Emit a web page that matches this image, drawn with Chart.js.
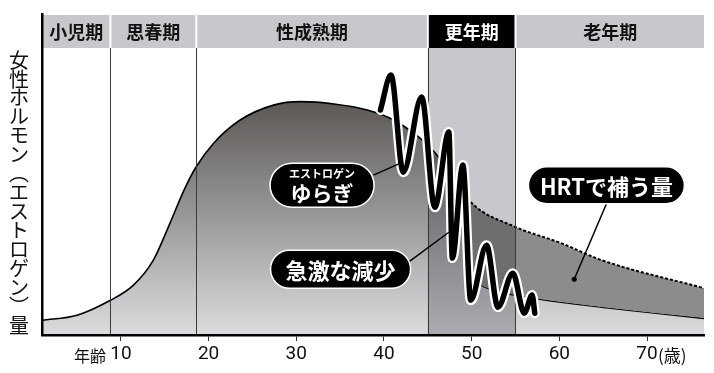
<!DOCTYPE html>
<html lang="ja">
<head>
<meta charset="utf-8">
<script src="https://cdn.jsdelivr.net/npm/chart.js@4.4.1/dist/chart.umd.min.js"></script>
<style>
html, body { margin: 0; padding: 0; background: #fff; }
#wrap { width: 714px; height: 373px; position: relative; }
</style>
</head>
<body>
<div id="wrap"><canvas id="hormoneChart"></canvas></div>
<script>
// age (years) and relative estrogen level (0-100)
const mainAges   = [1, 5, 8.8, 11.4, 13.7, 15.6, 17.2, 18.5, 20.6, 23.6, 27.4, 30.5, 34.3, 38.1, 41.1, 45, 46.8, 48.0, 48.8, 50.2, 52.5, 55.3, 60.2, 64.8, 76.5];
const mainLevels = [5.1, 6.9, 12.1, 17.3, 26.1, 39.0, 50.5, 58.2, 66.9, 74.9, 80.1, 81.3, 80.5, 78.4, 74.9, 66.2, 59.9, 55.0, 39.0, 21.5, 15.6, 13.8, 11.4, 9.7, 5.8];

const hrtAges   = [48.0, 49.9, 54.8, 60.2, 64.8, 76.5];
const hrtLevels = [55.0, 46.3, 37.9, 32.0, 26.1, 16.3];

const wiggleAges   = [39.6, 40.8, 42.2, 44.3, 45.8, 47.4, 47.8, 49.0, 49.9, 51.7, 53.0, 54.7, 56.0, 56.9, 57.2];
const wiggleLevels = [78.4, 90.6, 56.7, 82.9, 44.5, 70.7, 26.8, 59.2, 12.1, 31.3, 9.7, 21.5, 7.6, 13.9, 7.6];

const xTicks = [10, 20, 30, 40, 50, 60, 70];
const periodNames  = ['小児期', '思春期', '性成熟期', '更年期', '老年期'];
const periodBounds = [1, 8.8, 18.6, 45, 55, 76.5];
const yTitle = '女性ホルモン(エストロゲン)量';

const JP = '"Noto Sans CJK JP", sans-serif';

function pts(xs, ys) {
    return xs.map((x, i) => ({ x: x, y: ys[i] }));
}

function pill(ctx, cx, cy, w, h) {
    ctx.beginPath();
    ctx.roundRect(cx - w / 2, cy - h / 2, w, h, h / 2);
    ctx.fillStyle = '#000';
    ctx.fill();
    ctx.lineWidth = 1.5;
    ctx.strokeStyle = '#fff';
    ctx.stroke();
}

// band, header, titles and callouts
const decorations = {
    id: 'decorations',
    afterDatasetDraw(chart, args) {
        if (args.index !== 1) return;
        const ctx = chart.ctx, a = chart.chartArea, x = chart.scales.x;
        ctx.save();
        ctx.globalCompositeOperation = 'multiply';
        ctx.fillStyle = '#c8c7cc';
        ctx.fillRect(x.getPixelForValue(45), a.top, x.getPixelForValue(55) - x.getPixelForValue(45), a.bottom - a.top);
        ctx.restore();

        ctx.save();
        ctx.lineWidth = 1;
        ctx.strokeStyle = '#3a3a3a';
        [8.8, 18.6, 45, 55].forEach(v => {
            const px = Math.round(x.getPixelForValue(v)) + 0.5;
            ctx.beginPath();
            ctx.moveTo(px, a.top);
            ctx.lineTo(px, a.bottom);
            ctx.stroke();
        });
        ctx.restore();
    },
    afterDraw(chart) {
        const ctx = chart.ctx, a = chart.chartArea, x = chart.scales.x, y = chart.scales.y;
        ctx.save();

        // header row
        const top = 15, bottom = a.top;
        periodNames.forEach((name, i) => {
            const l = x.getPixelForValue(periodBounds[i]) + 1;
            const r = x.getPixelForValue(periodBounds[i + 1]) - (i === periodNames.length - 1 ? 0 : 1);
            const dark = name === '更年期';
            ctx.fillStyle = dark ? '#000' : '#c8c7cc';
            ctx.fillRect(l, top, r - l, bottom - top);
            ctx.fillStyle = dark ? '#fff' : '#111';
            ctx.font = 'bold 18px ' + JP;
            ctx.textAlign = 'center';
            ctx.textBaseline = 'middle';
            ctx.fillText(name, (l + r) / 2, (top + bottom) / 2 + 1);
        });

        // left axis line
        ctx.fillStyle = '#000';
        ctx.fillRect(a.left - 1, 13, 2.5, a.bottom - 13 + 1);

        // vertical y title
        ctx.font = '20px ' + JP;
        ctx.textAlign = 'center';
        ctx.textBaseline = 'middle';
        ctx.fillStyle = '#111';
        const chars = Array.from(yTitle).map(c => c === '(' ? '︵' : c === ')' ? '︶' : c);
        chars.forEach((c, i) => ctx.fillText(c, 19, 60 + i * 18.93));

        // extra axis words
        const ly = a.bottom + 21;
        ctx.font = '16px ' + JP;
        ctx.textAlign = 'right';
        ctx.fillText('年齢', x.getPixelForValue(10) - 15, ly);
        ctx.textAlign = 'left';
        ctx.font = '17px ' + JP;
        ctx.fillText('(歳)', x.getPixelForValue(70) + 11, ly);

        // leader lines
        ctx.strokeStyle = '#000';
        ctx.lineWidth = 1.5;
        const lines = [[38.8, 55.7, 41.9, 59.9], [42.8, 25.4, 47.4, 35.8], [65.4, 45.9, 61.7, 19.4]];
        lines.forEach(l => {
            ctx.beginPath();
            ctx.moveTo(x.getPixelForValue(l[0]), y.getPixelForValue(l[1]));
            ctx.lineTo(x.getPixelForValue(l[2]), y.getPixelForValue(l[3]));
            ctx.stroke();
        });
        ctx.beginPath();
        ctx.arc(x.getPixelForValue(61.7), y.getPixelForValue(19.4), 2.5, 0, Math.PI * 2);
        ctx.fillStyle = '#000';
        ctx.fill();

        // callouts
        let cx = x.getPixelForValue(32.94), cy = y.getPixelForValue(52.2);
        pill(ctx, cx, cy, 104, 44);
        ctx.fillStyle = '#fff';
        ctx.textAlign = 'center';
        ctx.font = 'bold 11px ' + JP;
        ctx.fillText('エストロゲン', cx, cy - 11);
        ctx.font = 'bold 21px ' + JP;
        ctx.fillText('ゆらぎ', cx, cy + 8);

        cx = x.getPixelForValue(35.05); cy = y.getPixelForValue(22.9);
        pill(ctx, cx, cy, 140, 38);
        ctx.fillStyle = '#fff';
        ctx.font = 'bold 22px ' + JP;
        ctx.fillText('急激な減少', cx, cy + 1);

        cx = x.getPixelForValue(65.37); cy = y.getPixelForValue(52.2);
        pill(ctx, cx, cy, 156, 37);
        ctx.fillStyle = '#fff';
        ctx.font = 'bold 22px ' + JP;
        ctx.fillText('HRTで補う量', cx, cy + 1);

        ctx.restore();
    }
};

const ctx = document.getElementById('hormoneChart').getContext('2d');
new Chart(ctx, {
    type: 'line',
    data: {
        datasets: [
            {
                label: '女性ホルモン',
                data: pts(mainAges, mainLevels),
                borderColor: '#000',
                borderWidth: 1.6,
                cubicInterpolationMode: 'monotone',
                pointRadius: 0,
                fill: 'origin',
                backgroundColor: c => {
                    const area = c.chart.chartArea;
                    if (!area) return '#999';
                    const g = c.chart.ctx.createLinearGradient(0, area.top + 50, 0, area.bottom);
                    g.addColorStop(0, '#5a5552');
                    g.addColorStop(0.45, '#939293');
                    g.addColorStop(1, '#dcdcde');
                    return g;
                },
                order: 4
            },
            {
                label: 'HRT',
                data: pts(hrtAges, hrtLevels),
                borderColor: '#000',
                borderWidth: 2,
                borderDash: [3, 2],
                cubicInterpolationMode: 'monotone',
                pointRadius: 0,
                fill: { target: 0, above: '#8c8c8c', below: 'rgba(0,0,0,0)' },
                order: 3
            },
            {
                label: 'halo',
                data: pts(wiggleAges, wiggleLevels),
                borderColor: '#fff',
                borderWidth: 10,
                borderCapStyle: 'round',
                borderJoinStyle: 'round',
                cubicInterpolationMode: 'monotone',
                pointRadius: 0,
                fill: false,
                order: 2
            },
            {
                label: 'ゆらぎ',
                data: pts(wiggleAges, wiggleLevels),
                borderColor: '#000',
                borderWidth: 5.5,
                borderCapStyle: 'round',
                borderJoinStyle: 'round',
                cubicInterpolationMode: 'monotone',
                pointRadius: 0,
                fill: false,
                order: 1
            }
        ]
    },
    options: {
        responsive: true,
        maintainAspectRatio: false,
        animation: false,
        devicePixelRatio: 1,
        layout: { padding: { left: 42, top: 48, right: 10, bottom: 0 } },
        plugins: { legend: { display: false }, tooltip: { enabled: false } },
        scales: {
            x: {
                type: 'linear',
                min: periodBounds[0],
                max: periodBounds[periodBounds.length - 1],
                afterBuildTicks: s => { s.ticks = xTicks.map(v => ({ value: v })); },
                afterFit: s => { s.height = 38; },
                grid: { drawOnChartArea: false, drawTicks: true, tickLength: 6, tickColor: '#333', tickWidth: 1 },
                border: { display: true, color: '#000', width: 2.5, z: 1 },
                ticks: {
                    padding: 2,
                    color: '#111',
                    font: { family: "'Liberation Sans Narrow', 'Roboto', sans-serif", size: 19 },
                    maxRotation: 0
                }
            },
            y: { display: false, min: 0, max: 100 }
        }
    },
    plugins: [decorations]
});
</script>
</body>
</html>
